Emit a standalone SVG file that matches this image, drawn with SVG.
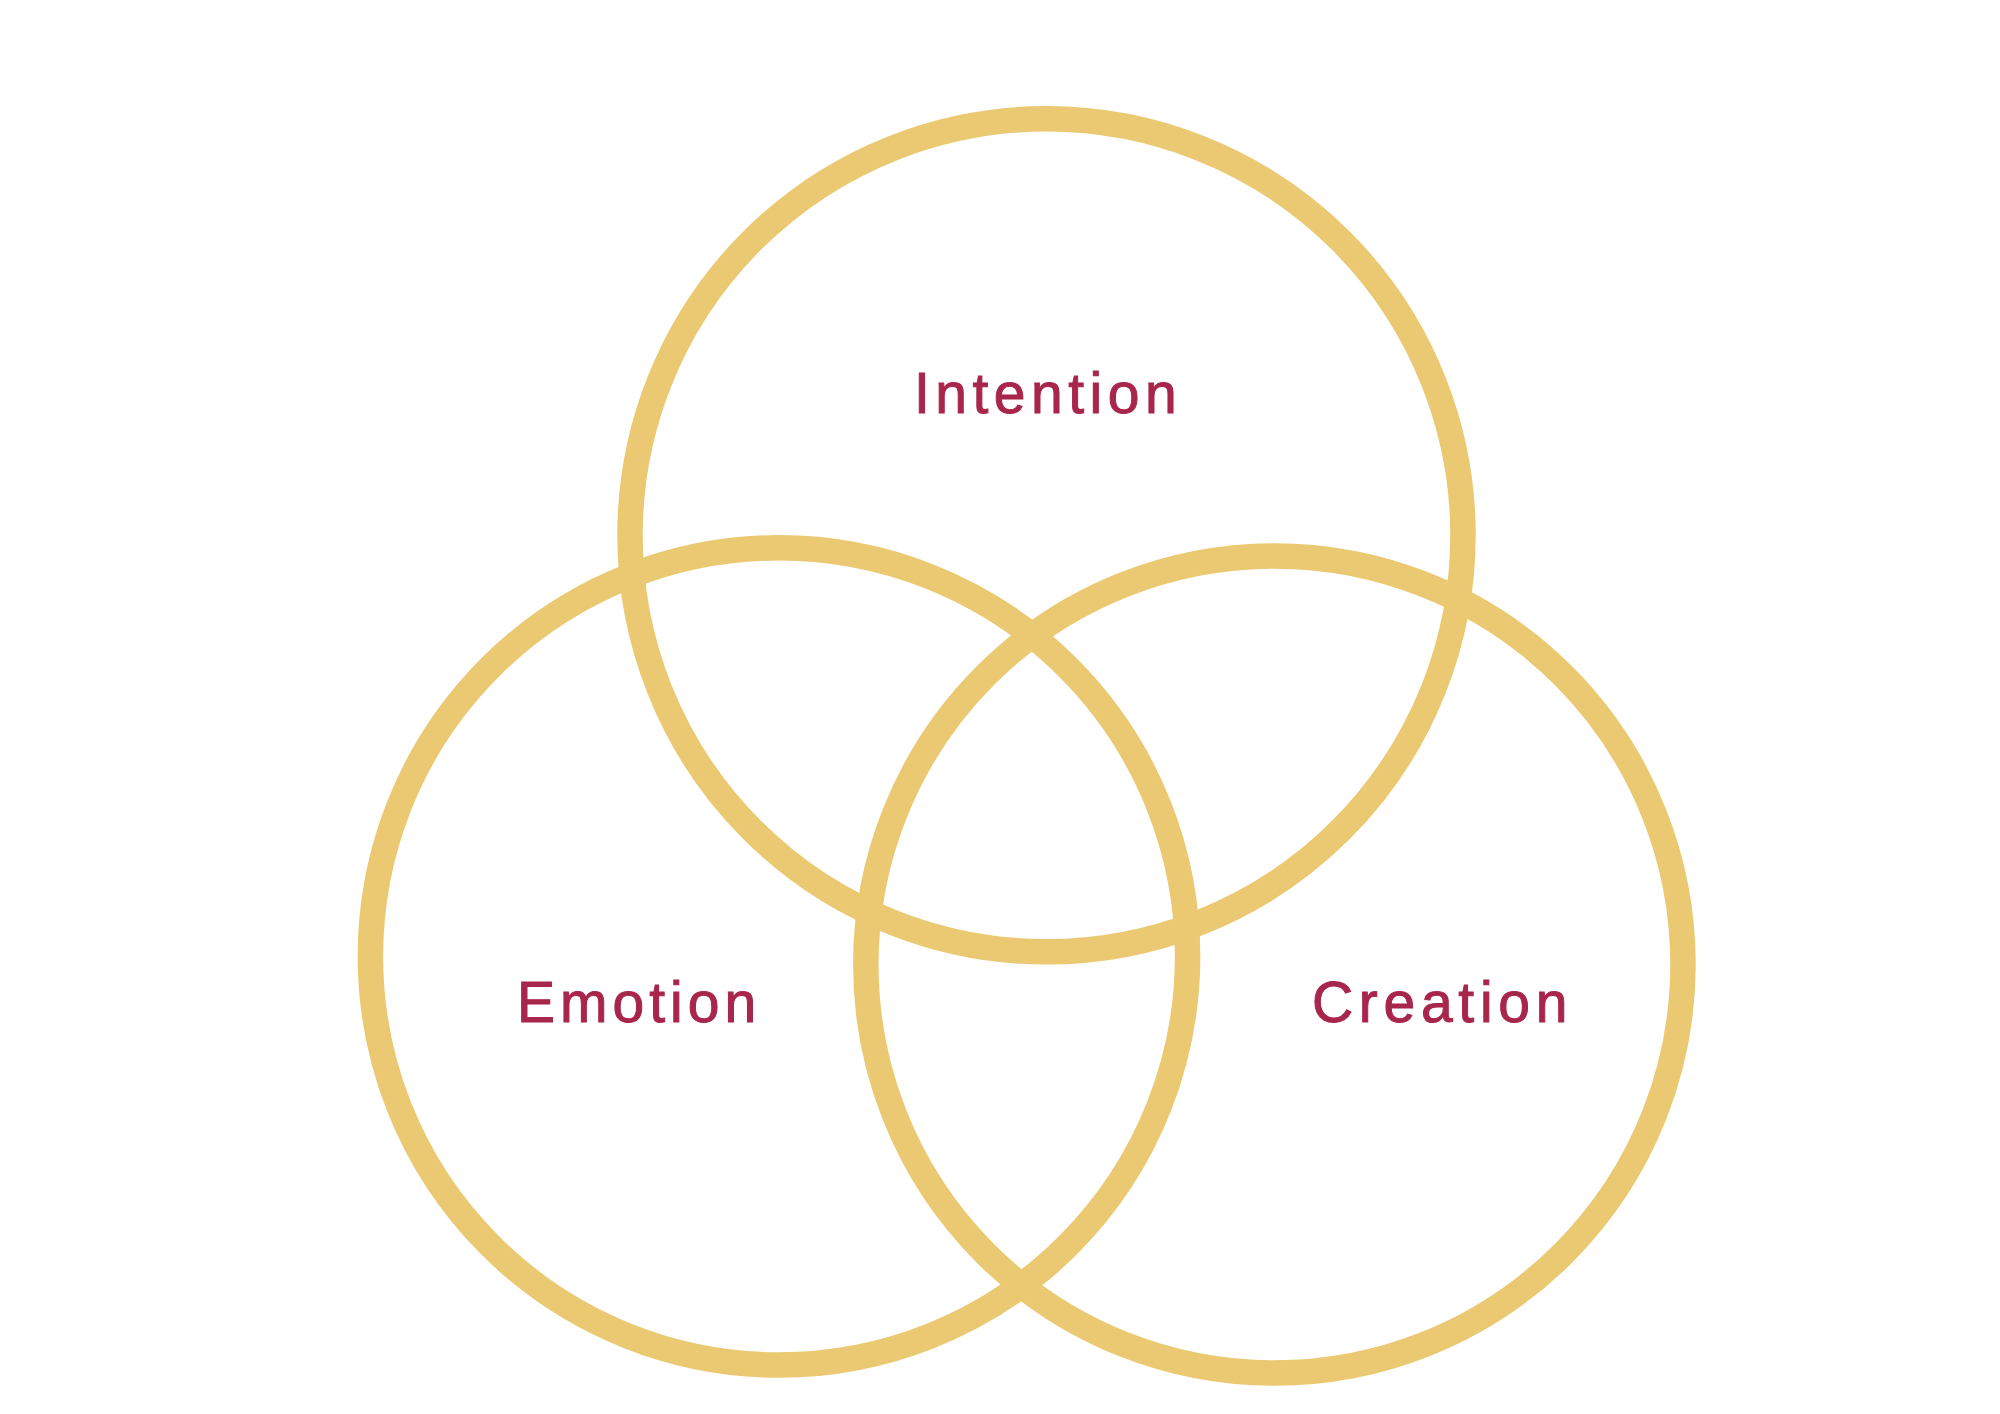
<svg xmlns="http://www.w3.org/2000/svg" width="2000" height="1414" viewBox="0 0 2000 1414">
<style>
.ring{fill:none;stroke:#EBC972;stroke-width:25.5}
.lbl{font-family:"Liberation Sans",Arial,sans-serif;font-size:57px;fill:#A8264B;stroke:#A8264B;stroke-width:1;letter-spacing:5.5px}
</style>
<rect width="2000" height="1414" fill="#FFFFFF"/>
<g id="connectors"></g>
<g id="intention">
<circle class="ring" cx="1046.5" cy="535.3" r="416.5"/>
<text class="lbl" x="914" y="413">Intention</text>
</g>
<g id="emotion">
<circle class="ring" cx="779" cy="956.4" r="408.6"/>
<text class="lbl" x="517" y="1022" style="letter-spacing:5px">Emotion</text>
</g>
<g id="creation">
<circle class="ring" cx="1274.4" cy="964.5" r="408.6"/>
<text class="lbl" x="1312" y="1022" style="letter-spacing:5.7px">Creation</text>
</g>
</svg>
